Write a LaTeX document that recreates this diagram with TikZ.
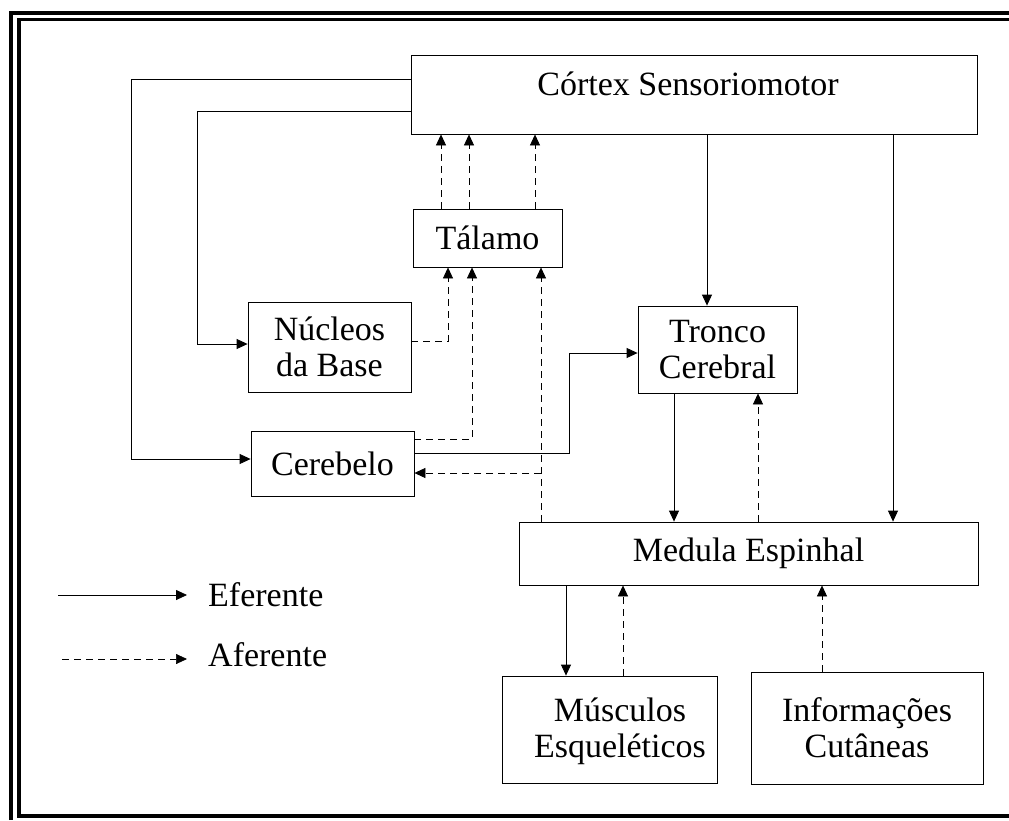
\documentclass[tikz,border=0pt]{standalone}
\usepackage{fontspec}
\setmainfont{Liberation Serif}
\usetikzlibrary{arrows.meta}
\begin{document}
\begin{tikzpicture}[x=1pt,y=-1pt,
  box/.style={draw, line width=0.8pt, inner sep=0pt, align=center, font=\fontsize{34}{36}\selectfont},
  txt/.style={inner sep=0pt, align=center, font=\fontsize{34}{36}\selectfont},
  eff/.style={line width=0.8pt, -{Triangle[length=11pt,width=10pt]}},
  aff/.style={line width=0.7pt, dash pattern=on 7pt off 5pt, -{Triangle[length=11pt,width=10pt]}},
  frame/.style={line width=3.5pt}]
\useasboundingbox (0,0) rectangle (1009,820);
% frame
\draw[frame] (11,820) -- (11,13) -- (1009,13);
\draw[frame] (1009,19.5) -- (19,19.5) -- (19,816) -- (1009,816);
% boxes
\node[box, minimum width=566, minimum height=79] (cortex) at (694,94.5) {};
\node[txt] (cortextxt) at (688,84) {Córtex Sensoriomotor};
\node[box, minimum width=149, minimum height=58] (talamo) at (487.5,238) {Tálamo};
\node[box, minimum width=163, minimum height=90] (nucleos) at (329.5,347) {Núcleos\\da Base};
\node[box, minimum width=163, minimum height=65] (cerebelo) at (332.5,463.5) {Cerebelo};
\node[box, minimum width=159, minimum height=87] (tronco) at (717.5,349.5) {Tronco\\Cerebral};
\node[box, minimum width=459, minimum height=63] (medula) at (748.5,553.5) {Medula Espinhal};
\node[box, minimum width=215, minimum height=107] (musc) at (609.5,729.5) {};
\node[txt] (musctxt) at (620,731) {Músculos\\Esqueléticos};
\node[box, minimum width=232, minimum height=112] (info) at (867,728) {Informações\\Cutâneas};
% efferent connectors
\draw[eff] ([yshift=15.5pt]cortex.west) -- ++(-279,0) |- ([yshift=4.5pt]cerebelo.west);
\draw[eff] ([yshift=-16.5pt]cortex.west) -- ++(-213,0) |- ([yshift=3pt]nucleos.west);
\draw[eff] ([xshift=-10.5pt]tronco.north |- cortex.south) -- ([xshift=-10.5pt]tronco.north);
\draw[eff] ([xshift=144.5pt]medula.north |- cortex.south) -- ([xshift=144.5pt]medula.north);
\draw[eff] ([yshift=10.5pt]cerebelo.east) -- ++(155,0) |- ([yshift=-3.5pt]tronco.west);
\draw[eff] ([xshift=-43.5pt]tronco.south) -- ([xshift=-43.5pt]tronco.south |- medula.north);
\draw[eff] ([xshift=-43.5pt]musc.north |- medula.south) -- ([xshift=-43.5pt]musc.north);
% afferent connectors
\draw[aff] ([xshift=-46.5pt]talamo.north) -- ([xshift=-46.5pt]talamo.north |- cortex.south);
\draw[aff] ([xshift=-18.5pt]talamo.north) -- ([xshift=-18.5pt]talamo.north |- cortex.south);
\draw[aff] ([xshift=47.5pt]talamo.north) -- ([xshift=47.5pt]talamo.north |- cortex.south);
\draw[aff] ([yshift=6pt]nucleos.east) -| ([xshift=-39.5pt]talamo.south);
\draw[aff] ([yshift=24.5pt]cerebelo.east) -| ([xshift=-15.5pt]talamo.south);
\draw[aff] ([xshift=53.5pt]talamo.south |- medula.north) -- ([xshift=53.5pt]talamo.south);
\coordinate (br) at ([xshift=53.5pt,yshift=-9.5pt]talamo.south |- cerebelo.east);
\draw[aff] (br) -- ([yshift=-9.5pt]cerebelo.east);
\draw[aff] ([xshift=40.5pt]tronco.south |- medula.north) -- ([xshift=40.5pt]tronco.south);
\draw[aff] ([xshift=13.5pt]musc.north) -- ([xshift=13.5pt]musc.north |- medula.south);
\draw[aff] ([xshift=-45pt]info.north) -- ([xshift=-45pt]info.north |- medula.south);
% legend
\node[txt, anchor=west] (eftxt) at (208,595) {Eferente};
\node[txt, anchor=west] (aftxt) at (208,655) {Aferente};
\coordinate (le1) at (58,595);
\coordinate (le2) at (62,659);
\draw[eff] (le1) -- ([xshift=-21pt]eftxt.west);
\draw[aff] (le2) -- ([xshift=-21pt,yshift=-4pt]aftxt.west);
\end{tikzpicture}
\end{document}
